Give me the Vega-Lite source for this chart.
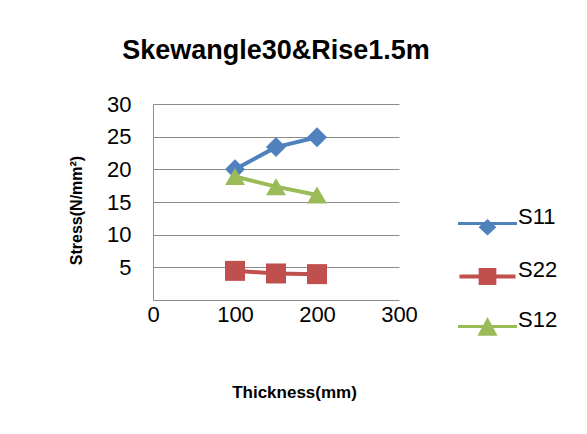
{
  "$schema": "https://vega.github.io/schema/vega-lite/v6.json",
  "width": 246,
  "height": 196,
  "autosize": {"type": "none"},
  "padding": {"left": 153, "top": 104, "right": 188, "bottom": 134},
  "background": "white",
  "title": {
    "text": "Skewangle30&Rise1.5m",
    "font": "Liberation Sans",
    "fontSize": 27,
    "fontWeight": "bold",
    "color": "black",
    "anchor": "middle",
    "frame": "group",
    "offset": 28
  },
  "data": {
    "values": [
      {"thickness": 100, "stress": 20.0, "series": "S11"},
      {"thickness": 150, "stress": 23.4, "series": "S11"},
      {"thickness": 200, "stress": 24.9, "series": "S11"},
      {"thickness": 100, "stress": 4.46, "series": "S22"},
      {"thickness": 150, "stress": 4.06, "series": "S22"},
      {"thickness": 200, "stress": 3.96, "series": "S22"},
      {"thickness": 100, "stress": 18.9, "series": "S12"},
      {"thickness": 150, "stress": 17.35, "series": "S12"},
      {"thickness": 200, "stress": 16.07, "series": "S12"}
    ]
  },
  "encoding": {
    "x": {
      "field": "thickness",
      "type": "quantitative",
      "scale": {"domain": [0, 300], "nice": false, "zero": false},
      "axis": {
        "title": "Thickness(mm)",
        "values": [0, 100, 200, 300],
        "grid": false,
        "domainColor": "#8c8c8c",
        "domainWidth": 1,
        "tickSize": 0,
        "labelPadding": 4,
        "labelFlush": false,
        "labelOverlap": false,
        "labelFont": "Liberation Sans",
        "labelFontSize": 22,
        "labelColor": "black",
        "titleFont": "Liberation Sans",
        "titleFontSize": 17,
        "titleFontWeight": "bold",
        "titleColor": "black",
        "titleX": 141,
        "titleY": 92,
        "titleAlign": "center",
        "titleBaseline": "middle"
      }
    },
    "y": {
      "field": "stress",
      "type": "quantitative",
      "scale": {"domain": [0, 30], "nice": false},
      "axis": {
        "title": "Stress(N/mm²)",
        "values": [5, 10, 15, 20, 25, 30],
        "grid": true,
        "gridColor": "#8c8c8c",
        "gridWidth": 1,
        "domainColor": "#8c8c8c",
        "domainWidth": 1,
        "tickSize": 0,
        "labelPadding": 22,
        "labelFlush": false,
        "labelOverlap": false,
        "labelFont": "Liberation Sans",
        "labelFontSize": 22,
        "labelColor": "black",
        "titleFont": "Liberation Sans",
        "titleFontSize": 16,
        "titleFontWeight": "bold",
        "titleColor": "black",
        "titleAngle": 270,
        "titleX": -77,
        "titleY": 106,
        "titleAlign": "center",
        "titleBaseline": "middle"
      }
    },
    "color": {
      "field": "series",
      "type": "nominal",
      "scale": {"domain": ["S11", "S22", "S12"], "range": ["#4f81bd", "#c0504d", "#9bbb59"]},
      "legend": {
        "title": null,
        "orient": "none",
        "legendX": 305,
        "legendY": 90,
        "padding": 0,
        "labelFont": "Liberation Sans",
        "labelFontSize": 22,
        "labelColor": "black",
        "labelBaseline": "alphabetic",
        "labelOffset": 1,
        "rowPadding": 11,
        "symbolSize": 3481,
        "symbolStrokeWidth": 0,
        "encode": {
          "symbols": {
            "update": {
              "shape": {"signal": "datum.value === 'S11' ? 'M-1,-0.05H1V0.05H-1Z M0,-0.15L0.3,0.13L0,0.41L-0.3,0.13Z' : datum.value === 'S22' ? 'M-0.95,-0.07H0.95V0.07H-0.95Z M-0.3,-0.29H0.3V0.29H-0.3Z' : 'M-1,-0.05H1V0.05H-1Z M0,-0.32L0.34,0.31L-0.34,0.31Z'"},
              "fill": {"scale": "color", "field": "value"},
              "stroke": {"value": "transparent"},
              "opacity": {"value": 1}
            }
          }
        }
      }
    }
  },
  "layer": [
    {
      "mark": {"type": "line", "strokeWidth": 4, "strokeCap": "round", "strokeJoin": "round"}
    },
    {
      "transform": [{"filter": "datum.series === 'S11'"}],
      "mark": {"type": "point", "shape": "diamond", "filled": true, "size": 400, "opacity": 1}
    },
    {
      "transform": [{"filter": "datum.series === 'S22'"}],
      "mark": {"type": "point", "shape": "square", "filled": true, "size": 400, "opacity": 1}
    },
    {
      "transform": [{"filter": "datum.series === 'S12'"}],
      "mark": {"type": "point", "shape": "M0,-0.85L1,0.85L-1,0.85Z", "filled": true, "size": 400, "opacity": 1}
    }
  ],
  "config": {
    "view": {"stroke": null}
  }
}
